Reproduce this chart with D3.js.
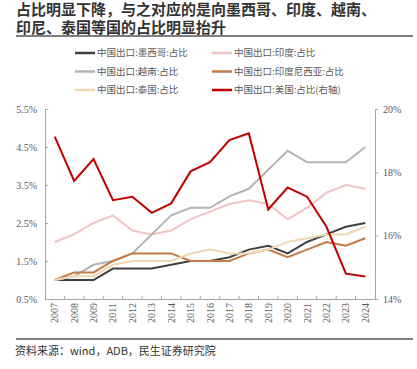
<!DOCTYPE html>
<html><head><meta charset="utf-8">
<script src="https://cdn.jsdelivr.net/npm/d3@7"></script>
<style>body{margin:0;background:#fff}svg{display:block}</style>
</head><body>
<script>
const years = ["2007","2008","2009","2011","2012","2013","2014","2015","2016","2017","2018","2019","2020","2021","2022","2023","2024"];
const mexico = [1.0,1.0,1.0,1.3,1.3,1.3,1.4,1.5,1.5,1.6,1.8,1.9,1.7,2.0,2.2,2.4,2.5];
const india = [2.0,2.2,2.5,2.7,2.3,2.2,2.3,2.6,2.8,3.0,3.1,3.0,2.6,2.9,3.3,3.5,3.4];
const vietnam = [1.0,1.1,1.4,1.5,1.7,2.2,2.7,2.9,2.9,3.2,3.4,3.9,4.4,4.1,4.1,4.1,4.5];
const indonesia = [1.0,1.2,1.2,1.5,1.7,1.7,1.7,1.5,1.5,1.5,1.7,1.8,1.6,1.8,2.0,1.9,2.1];
const thailand = [1.0,1.1,1.1,1.4,1.5,1.5,1.5,1.7,1.8,1.7,1.7,1.8,2.0,2.1,2.2,2.2,2.4];
const usa = [19.13,17.73,18.42,17.12,17.23,16.72,17.02,18.03,18.32,19.02,19.23,16.83,17.52,17.23,16.28,14.80,14.71];
const leftTicks = [0.5,1.5,2.5,3.5,4.5,5.5];
const rightTicks = [14,16,18,20];
const titleLines = ["占比明显下降，与之对应的是向墨西哥、印度、越南、","印尼、泰国等国的占比明显抬升"];
const source = "资料来源：wind，ADB，民生证券研究院";

const series = [
  {name:"中国出口:墨西哥:占比", values:mexico, color:"#404040", axis:"l"},
  {name:"中国出口:印度:占比", values:india, color:"#f0c4c4", axis:"l"},
  {name:"中国出口:越南:占比", values:vietnam, color:"#b4b4b4", axis:"l"},
  {name:"中国出口:印度尼西亚:占比", values:indonesia, color:"#c47a44", axis:"l"},
  {name:"中国出口:泰国:占比", values:thailand, color:"#f0d8b4", axis:"l"},
  {name:"中国出口:美国:占比(右轴)", values:usa, color:"#c00000", axis:"r"}
];

const W=417,H=369;
const svg=d3.select("body").append("svg").attr("width",W).attr("height",H);
const cjk="'Noto Sans CJK SC','Noto Sans',sans-serif";
const serif="'Liberation Serif','DejaVu Serif',serif";

// title
svg.selectAll(".t").data(titleLines).enter().append("text")
  .attr("x",16).attr("y",(d,i)=>14.5+i*18.5)
  .attr("font-family",cjk).attr("font-weight","bold").attr("font-size",15)
  .attr("fill","#333").text(d=>d);
svg.append("line").attr("x1",16).attr("x2",413).attr("y1",36).attr("y2",36)
  .attr("stroke","#555").attr("stroke-width",1.5);

// scales
const pL=45,pR=375,pT=109,pB=299;
const x=d3.scaleBand().domain(years).range([pL,pR]);
const yl=d3.scaleLinear().domain([0.5,5.5]).range([pB,pT]);
const yr=d3.scaleLinear().domain([14,20]).range([pB,pT]);

// axes
const axCol="#a6a6a6";
const gx=svg.append("g").attr("transform",`translate(0,${pB})`)
  .call(d3.axisBottom(x).tickSize(0).tickSizeOuter(0));
gx.select(".domain").attr("stroke",axCol);
gx.selectAll("text").attr("font-family",serif).attr("font-size",10).attr("fill","#595959")
  .attr("transform","rotate(-90)").attr("text-anchor","end").attr("dx","-4").attr("dy","0.35em").attr("x",0).attr("y",0);
svg.append("g").selectAll("line").data(years.slice(1)).enter().append("line")
  .attr("x1",d=>x(d)).attr("x2",d=>x(d)).attr("y1",pB).attr("y2",pB-3)
  .attr("stroke",axCol);

const gl=svg.append("g").attr("transform",`translate(${pL},0)`)
  .call(d3.axisLeft(yl).tickValues(leftTicks).tickFormat(d=>d.toFixed(1)+"%").tickSize(-3).tickSizeOuter(0).tickPadding(8));
gl.select(".domain").attr("stroke",axCol);
gl.selectAll(".tick line").attr("stroke",axCol);
gl.selectAll("text").attr("font-family",serif).attr("font-size",10).attr("fill","#595959");

const gr=svg.append("g").attr("transform",`translate(${pR},0)`)
  .call(d3.axisRight(yr).tickValues(rightTicks).tickFormat(d=>d+"%").tickSize(3).tickSizeOuter(0).tickPadding(5));
gr.select(".domain").attr("stroke",axCol);
gr.selectAll(".tick line").attr("stroke",axCol);
gr.selectAll("text").attr("font-family",serif).attr("font-size",10).attr("fill","#595959");

// lines
const cx=d=>x(d)+x.bandwidth()/2;
series.forEach(s=>{
  const ys = s.axis==="l"?yl:yr;
  const line=d3.line().x((v,i)=>cx(years[i])).y(v=>ys(v));
  svg.append("path").datum(s.values).attr("d",line)
    .attr("fill","none").attr("stroke",s.color).attr("stroke-width",2)
    .attr("stroke-linejoin","miter");
});

// legend
const leg=svg.append("g");
series.forEach((s,i)=>{
  const col=i%2, row=Math.floor(i/2);
  const lx= col===0?75:212, ly=53+row*18.5;
  leg.append("line").attr("x1",lx).attr("x2",lx+20).attr("y1",ly).attr("y2",ly)
    .attr("stroke",s.color).attr("stroke-width",2.5);
  leg.append("text").attr("x",lx+22).attr("y",ly).attr("dy","0.35em")
    .attr("font-family",cjk).attr("font-size",9.5).attr("fill","#595959").text(s.name);
});

// footer
svg.append("line").attr("x1",16).attr("x2",413).attr("y1",339).attr("y2",339)
  .attr("stroke","#555").attr("stroke-width",1.5);
svg.append("text").attr("x",15).attr("y",355).attr("font-family",cjk).attr("font-size",11)
  .attr("fill","#333").text(source);
</script>
</body></html>
